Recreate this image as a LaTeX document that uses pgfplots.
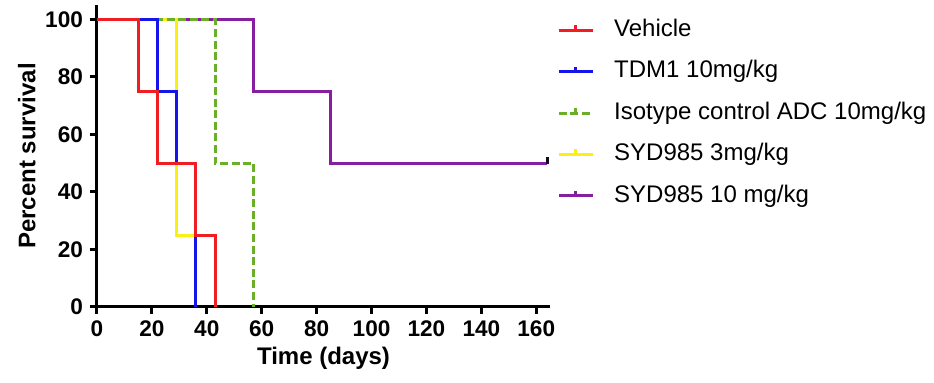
\documentclass[border=0pt]{standalone}
\usepackage{pgfplots}
\pgfplotsset{compat=1.18}
\usepackage{fontspec}
\setmainfont{Liberation Sans}
\definecolor{cred}{RGB}{240,30,35}
\definecolor{cblue}{RGB}{20,20,235}
\definecolor{cgreen}{RGB}{105,175,40}
\definecolor{cyellow}{RGB}{250,240,20}
\definecolor{cpurple}{RGB}{135,30,160}
\begin{document}
\begin{tikzpicture}
\useasboundingbox (0,0) rectangle (467pt,191.5pt);
\begin{axis}[
  at={(48.5pt,38pt)}, anchor=south west,
  scale only axis, width=226.5pt, height=151pt,
  xmin=0, xmax=165, ymin=0, ymax=105,
  axis lines=left,
  axis line style={line width=1.5pt, -},
  xtick={0,20,...,160}, ytick={0,20,...,100},
  tick style={line width=1.5pt, black},
  tick align=outside, major tick length=3.5pt,
  tick label style={font=\bfseries\fontsize{11.3}{13}\selectfont},
  /pgf/number format/assume math mode=true,
  xlabel={Time (days)}, ylabel={Percent survival},
  label style={font=\bfseries\fontsize{12}{14}\selectfont},
  every axis y label/.append style={yshift=-2pt},
  every axis x label/.append style={yshift=2pt},
  reverse legend,
  legend style={draw=none, fill=none, inner sep=0pt,
    at={(1.015,0.955)}, anchor=north west,
    font=\fontsize{12}{14}\selectfont,
    row sep=9.4pt,
    nodes={inner sep=0pt, text height=8.8pt, text depth=2.5pt},
    /tikz/every odd column/.append style={column sep=10pt}},
  legend cell align=left,
  legend image code/.code={\draw[#1] (0pt,0pt) -- (17pt,0pt); \draw[#1,solid] (8.5pt,0pt) -- (8.5pt,2.5pt);},
]
\addplot[cpurple, const plot, line width=1.5pt] coordinates {(0,100) (57,75) (85,50) (164,50)};
\addlegendentry{SYD985 10 mg/kg}
\addplot[cyellow, const plot, line width=1.5pt] coordinates {(0,100) (29,25) (36,0)};
\addlegendentry{SYD985 3mg/kg}
\addplot[cgreen, const plot, line width=1.5pt, dash pattern=on 4pt off 1.8pt] coordinates {(0,100) (43,50) (57,0)};
\addlegendentry{Isotype control ADC 10mg/kg}
\addplot[cblue, const plot, line width=1.5pt] coordinates {(0,100) (22,75) (29,50) (36,0)};
\addlegendentry{TDM1 10mg/kg}
\addplot[cred, const plot, line width=1.5pt] coordinates {(0,100) (15,75) (22,50) (36,25) (43,0)};
\addlegendentry{Vehicle}
\addplot[black!80!cpurple, line width=1.5pt, forget plot] coordinates {(164,49.6) (164,52)};
\end{axis}
\end{tikzpicture}
\end{document}
